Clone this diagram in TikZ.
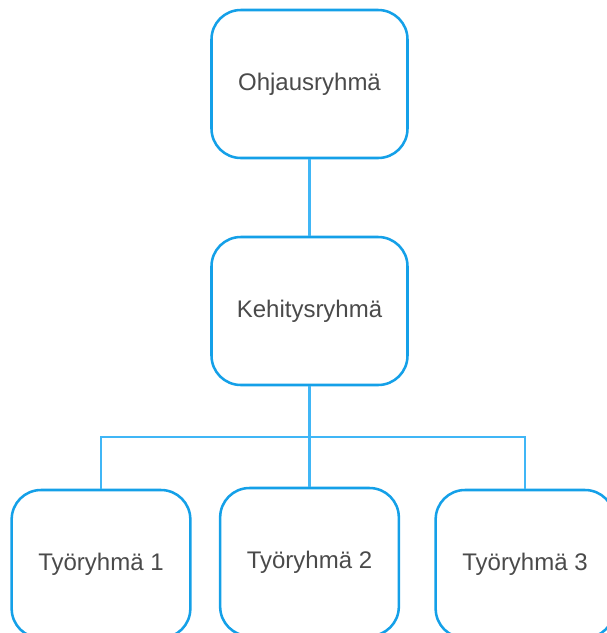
\documentclass[tikz,border=0pt]{standalone}
\usepackage{fontspec}
\setmainfont{Liberation Sans}
\usepackage{tikz}
\usetikzlibrary{positioning}
\definecolor{boxblue}{HTML}{14A0E8}
\definecolor{lineblue}{HTML}{40B6F6}
\definecolor{textgray}{HTML}{4A4A4A}

\begin{document}
\begin{tikzpicture}[
    x=0.75pt, y=-0.75pt,
    group/.style={rectangle, rounded corners=22pt, draw=boxblue, line width=1.9pt, fill=white,
      minimum width=147pt, minimum height=111pt, text=textgray, font=\fontsize{18}{21}\selectfont},
    team/.style={group, minimum width=134pt},
    link/.style={lineblue, line width=1.6pt}
  ]
    \clip (0,0) rectangle (607,633);
    \useasboundingbox (0,0) rectangle (607,633);
    \node[group] (ohj) at (309.5,84) {Ohjausryhmä};
    \node[group] (keh) at (309.5,311) {Kehitysryhmä};
    \node[team] (t1) at (101,564) {Työryhmä 1};
    \node[team] (t2) at (309.5,562) {Työryhmä 2};
    \node[team] (t3) at (525,564) {Työryhmä 3};
    \coordinate (bus) at (309.5,437);
    % links between the groups
    \draw[link] (ohj) -- (keh);
    \draw[link] (keh) -- (bus);
    \draw[link] (t1.north) |- (bus) -| (t3.north);
    \draw[link] (bus) -- (t2);
  \end{tikzpicture}
\end{document}
